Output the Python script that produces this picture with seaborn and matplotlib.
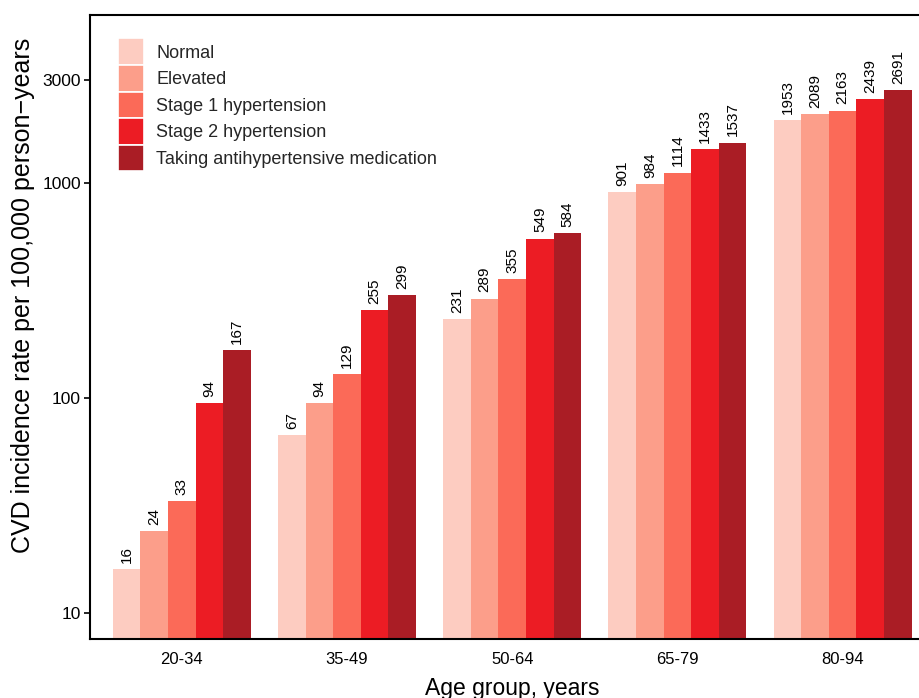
import matplotlib
matplotlib.use("Agg")
import matplotlib.pyplot as plt
from matplotlib.patches import Patch
import seaborn as sns
import pandas as pd

age_groups = ["20-34", "35-49", "50-64", "65-79", "80-94"]
categories = ["Normal", "Elevated", "Stage 1 hypertension",
              "Stage 2 hypertension", "Taking antihypertensive medication"]
normal = [16, 67, 231, 901, 1953]
elevated = [24, 94, 289, 984, 2089]
stage1 = [33, 129, 355, 1114, 2163]
stage2 = [94, 255, 549, 1433, 2439]
medication = [167, 299, 584, 1537, 2691]
colors = ["#FDCCC1", "#FC9E8A", "#FB6A58", "#EC1C24", "#AA1D25"]
y_ticks = [10, 100, 1000, 3000]

rates = [normal, elevated, stage1, stage2, medication]
df = pd.DataFrame(
    [(g, c, v) for c, vals in zip(categories, rates) for g, v in zip(age_groups, vals)],
    columns=["age", "status", "rate"],
)

sns.set_theme(style="white")
plt.rcParams["font.family"] = ["Liberation Sans", "DejaVu Sans"]

fig = plt.figure(figsize=(9.2, 6.98), dpi=100)
ax = fig.add_axes([0.0978, 0.0841, 0.918, 0.8948])

sns.barplot(data=df, x="age", y="rate", hue="status", order=age_groups,
            hue_order=categories, palette=colors, width=0.835, gap=0,
            saturation=1, edgecolor="none", linewidth=0, legend=False, ax=ax)
ax.set_yscale("log")
ax.set_ylim(7.52, 6040)
ax.set_xlim(-0.556, 4.556)

for cont in ax.containers:
    ax.bar_label(cont, fmt="%d", rotation=90, padding=4.5, fontsize=11,
                 color="black")

ax.set_yticks(y_ticks)
ax.set_yticklabels([str(t) for t in y_ticks])
ax.minorticks_off()
ax.tick_params(axis="y", which="major", length=4.5, width=1.2, color="black",
               labelsize=12.5, labelcolor="black", pad=2, left=True)
ax.tick_params(axis="x", length=0, labelsize=12, labelcolor="black", pad=9)

for side in ["left", "bottom", "top"]:
    ax.spines[side].set_visible(True)
    ax.spines[side].set_color("black")
    ax.spines[side].set_linewidth(1.5)
ax.spines["right"].set_visible(False)

ax.set_xlabel("Age group, years", fontsize=16.5, color="black")
ax.set_ylabel("CVD incidence rate per 100,000 person\u2212years", fontsize=18,
              color="black")
ax.xaxis.set_label_coords(0.5, -0.060)
ax.yaxis.set_label_coords(-0.065, 0.551)

handles = [Patch(facecolor=c, edgecolor="white", linewidth=1.2, label=l)
           for c, l in zip(colors, categories)]
ax.legend(handles=handles, loc="upper left", bbox_to_anchor=(0.0332, 0.962),
          frameon=False, fontsize=13, handlelength=1.45, handleheight=1.885,
          labelspacing=0.0, handletextpad=0.68, borderpad=0, borderaxespad=0)

fig.savefig("out.png", dpi=100)
